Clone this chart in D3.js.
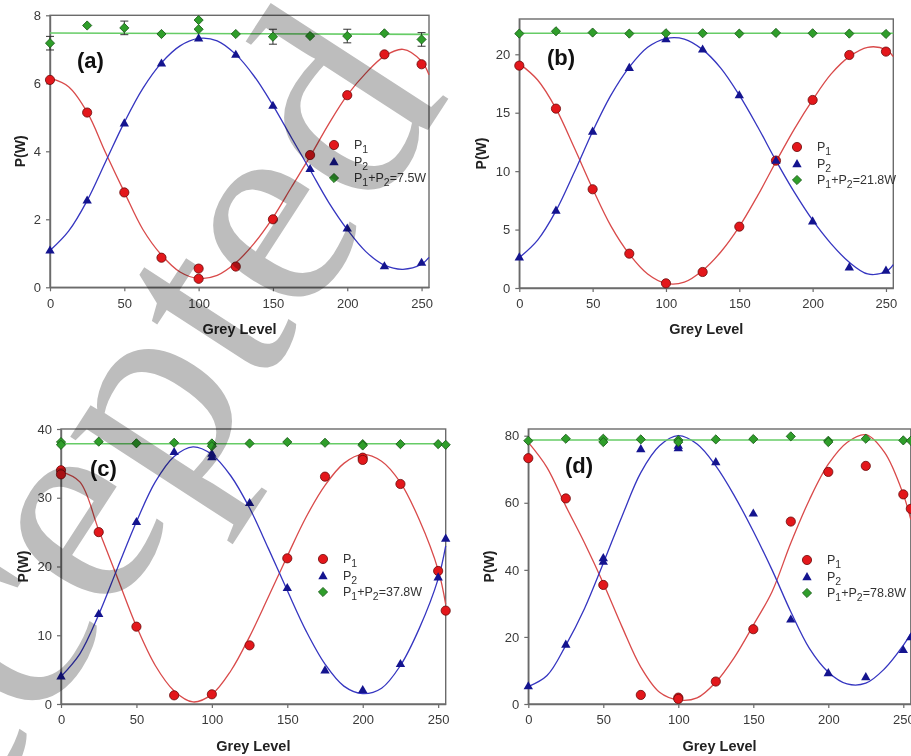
<!DOCTYPE html>
<html><head><meta charset="utf-8">
<script src="https://cdn.jsdelivr.net/npm/d3@7"></script>
<style>
body{margin:0;background:#fff;}
svg{display:block;font-family:Arial,"Liberation Sans",sans-serif;}
</style>
</head><body>
<svg id="chart" width="911" height="756"></svg>
<script>
// ---------------- DATA ----------------
const xTicks = [0, 50, 100, 150, 200, 250];
const fitX = [0,12.5,25,37.5,50,62.5,75,87.5,100,112.5,125,137.5,150,162.5,175,187.5,200,212.5,225,237.5,250,255];

// Panel (a)
const yTicksA = [0, 2, 4, 6, 8];
const p1XA = [0,25,50,75,100,100,125,150,175,200,225,250];
const p1A  = [6.10,5.14,2.79,0.87,0.55,0.25,0.61,2.00,3.89,5.65,6.85,6.56];
const p2XA = [0,25,50,75,100,125,150,175,200,225,250];
const p2A  = [1.10,2.57,4.84,6.60,7.34,6.86,5.36,3.50,1.75,0.64,0.74];
const sumXA = [0,25,50,75,100,100,125,150,175,200,225,250];
const sumA  = [7.18,7.70,7.63,7.45,7.86,7.59,7.45,7.37,7.39,7.39,7.47,7.29];
const errA  = [0.20,0,0.20,0,0,0,0,0.22,0,0.20,0,0.20];
const fitP1A = [6.15,5.9,5.15,3.95,2.8,1.7,0.95,0.45,0.26,0.35,0.72,1.3,2.05,2.95,3.85,4.8,5.65,6.3,6.8,7.0,6.65,6.25];
const fitP2A = [1.08,1.65,2.55,3.7,4.85,5.85,6.6,7.1,7.32,7.25,6.85,6.2,5.35,4.4,3.45,2.5,1.7,1.05,0.65,0.53,0.68,0.88];
const sumFitA = [7.48, 7.44];
const sumLabelA = "=7.5W";

// Panel (b)
const yTicksB = [0, 5, 10, 15, 20];
const xB = [0,25,50,75,100,125,150,175,200,225,250];
const p1B = [19.03,15.35,8.45,2.94,0.40,1.37,5.25,10.90,16.09,19.94,20.23];
const p2B = [2.68,6.68,13.44,18.89,21.34,20.46,16.55,10.96,5.76,1.82,1.54];
const sumB = [21.77,21.97,21.86,21.77,21.80,21.80,21.77,21.83,21.80,21.77,21.74];
const fitP1B = [19.2,17.8,15.35,12.0,8.5,5.3,2.9,1.2,0.4,0.5,1.5,3.1,5.25,7.9,10.8,13.6,16.1,18.3,19.8,20.6,20.4,19.8];
const fitP2B = [2.6,4.1,6.6,9.9,13.4,16.5,18.9,20.6,21.35,21.3,20.4,18.8,16.5,13.8,10.9,8.2,5.8,3.8,2.2,1.2,1.4,2.0];
const sumFitB = [21.8, 21.8];
const sumLabelB = "=21.8W";

// Panel (c)
const yTicksC = [0, 10, 20, 30, 40];
const p1XC = [0,0,25,50,75,100,125,150,175,200,200,225,250,255];
const p1C  = [34.0,33.4,25.0,11.25,1.26,1.41,8.53,21.19,33.07,35.83,35.5,32.0,19.35,13.58];
const p2XC = [0,25,50,75,100,100,125,150,175,200,225,250,255];
const p2C  = [4.12,13.19,26.57,36.75,36.5,36.0,29.34,16.97,4.99,2.13,5.92,18.52,24.15];
const sumXC = [0,0,25,50,75,100,100,125,150,175,200,200,225,250,255];
const sumC  = [38.1,37.7,38.16,37.92,38.0,37.9,37.5,37.9,38.1,38.0,37.8,37.6,37.8,37.8,37.7];
const fitP1C = [33.8,32.3,25.3,18.3,11.3,5.6,1.9,0.3,1.4,4.8,9.8,15.6,21.5,27.2,31.8,35.0,36.3,35.3,32.2,26.8,19.5,14.5];
const fitP2C = [4.0,7.3,13.0,19.8,26.5,32.3,36.0,37.4,36.3,33.2,28.5,22.6,16.5,10.6,5.8,2.6,1.5,2.3,5.6,11.0,18.2,23.0];
const sumFitC = [37.85, 37.85];
const sumLabelC = "=37.8W";

// Panel (d)
const yTicksD = [0, 20, 40, 60, 80];
const p1XD = [0,25,50,75,100,100,125,150,175,200,225,250,255];
const p1D  = [73.3,61.3,35.5,2.7,1.9,1.5,6.7,22.3,54.4,69.2,71.0,62.5,58.2];
const p2XD = [0,25,50,50,75,100,100,125,150,175,200,225,250,255];
const p2D  = [5.5,17.9,43.7,42.6,76.2,76.5,77.2,72.3,57.0,25.4,9.4,8.2,16.3,20.1];
const sumXD = [0,25,50,50,75,100,100,125,150,175,200,200,225,250,255];
const sumD  = [78.5,79.1,79.1,78.1,78.9,78.7,78.1,78.9,79.0,79.8,78.5,78.1,79.1,78.6,78.5];
const fitP1D = [78,70.5,59,48,36,23,11,3.5,1.2,1.8,6.5,14,23.5,33.5,48,61,71.5,78,80.3,75,62.5,55];
const fitP2D = [5.2,8.5,17.5,28.5,42,56,69,77,80,77.5,71,62,51.5,40,27.5,16.5,9.5,6,6.2,10.5,17.5,21];
const sumFitD = [78.7, 78.7];
const sumLabelD = "=78.8W";

const panelLabels = ["(a)", "(b)", "(c)", "(d)"];
const xTitle = "Grey Level";
const yTitle = "P(W)";
const watermark = "Accepted";

// ---------------- DRAW ----------------
const svg = d3.select("#chart");
svg.append("rect").attr("width", 911).attr("height", 756).attr("fill", "#fff");

const panels = [
  {label: panelLabels[0], left: 50, right: 429, top: 15.3, bottom: 287.3, yMax: 8, yTicks: yTicksA,
   p1X: p1XA, p1: p1A, p2X: p2XA, p2: p2A, sumX: sumXA, sum: sumA, err: errA,
   f1: fitP1A, f2: fitP2A, sf: sumFitA, sumLabel: sumLabelA,
   labPos: [77, 68], legPos: [334, 145], yTitleX: 20, xTitleY: 334},
  {label: panelLabels[1], left: 519.3, right: 893.3, top: 19, bottom: 288, yMax: 23.02, yTicks: yTicksB,
   p1X: xB, p1: p1B, p2X: xB, p2: p2B, sumX: xB, sum: sumB, err: null,
   f1: fitP1B, f2: fitP2B, sf: sumFitB, sumLabel: sumLabelB,
   labPos: [547, 65], legPos: [797, 147], yTitleX: 481, xTitleY: 334},
  {label: panelLabels[2], left: 61, right: 445.7, top: 429, bottom: 704, yMax: 40, yTicks: yTicksC,
   p1X: p1XC, p1: p1C, p2X: p2XC, p2: p2C, sumX: sumXC, sum: sumC, err: null,
   f1: fitP1C, f2: fitP2C, sf: sumFitC, sumLabel: sumLabelC,
   labPos: [90, 476], legPos: [323, 559], yTitleX: 22.5, xTitleY: 751},
  {label: panelLabels[3], left: 528.3, right: 910.8, top: 429, bottom: 704, yMax: 82, yTicks: yTicksD,
   p1X: p1XD, p1: p1D, p2X: p2XD, p2: p2D, sumX: sumXD, sum: sumD, err: null,
   f1: fitP1D, f2: fitP2D, sf: sumFitD, sumLabel: sumLabelD,
   labPos: [565, 473], legPos: [807, 560], yTitleX: 489, xTitleY: 751}
];

const C = {
  red: "#e3171b", redEdge: "#6a0a0a", redLine: "#d94a4a",
  blue: "#14148f", blueLine: "#3535c0",
  green: "#2f9e2a", greenEdge: "#175a17", greenLine: "#66cc66",
  axis: "#6b6b6b", tickText: "#3a3a3a"
};

const triPath = d3.symbol(d3.symbolTriangle, 38)();
const diaPath = d3.symbol(d3.symbolSquare, 42)();

function drawMarkers(g, xs, ys, x, y, kind) {
  const sel = g.selectAll(null).data(xs.map((v, i) => [v, ys[i]])).enter();
  if (kind === "circle") {
    sel.append("circle").attr("cx", d => x(d[0])).attr("cy", d => y(d[1])).attr("r", 4.6)
      .attr("fill", C.red).attr("stroke", C.redEdge).attr("stroke-width", 0.8);
  } else if (kind === "tri") {
    sel.append("path").attr("d", triPath)
      .attr("transform", d => `translate(${x(d[0])},${y(d[1]) + 1})`)
      .attr("fill", C.blue);
  } else {
    sel.append("path").attr("d", diaPath)
      .attr("transform", d => `translate(${x(d[0])},${y(d[1])}) rotate(45)`)
      .attr("fill", C.green).attr("stroke", C.greenEdge).attr("stroke-width", 0.8);
  }
}

panels.forEach((p, idx) => {
  const x = d3.scaleLinear().domain([0, 255]).range([p.left, p.right]);
  const y = d3.scaleLinear().domain([0, p.yMax]).range([p.bottom, p.top]);
  const g = svg.append("g");

  // frame
  g.append("rect").attr("x", p.left).attr("y", p.top)
    .attr("width", p.right - p.left).attr("height", p.bottom - p.top)
    .attr("fill", "none").attr("stroke", C.axis).attr("stroke-width", 1.4);

  // axes
  const ax = g.append("g").attr("transform", `translate(0,${p.bottom})`)
    .call(d3.axisBottom(x).tickValues(xTicks).tickSize(4).tickSizeOuter(0).tickPadding(7));
  const ay = g.append("g").attr("transform", `translate(${p.left},0)`)
    .call(d3.axisLeft(y).tickValues(p.yTicks).tickSize(4).tickSizeOuter(0).tickPadding(5));
  [ax, ay].forEach(a => {
    a.select(".domain").attr("stroke", C.axis).attr("stroke-width", 1.4);
    a.selectAll(".tick line").attr("stroke", C.axis).attr("stroke-width", 1.2);
    a.selectAll(".tick text").attr("fill", C.tickText).attr("font-size", 13)
      .attr("font-family", "Arial, 'Liberation Sans', sans-serif");
  });

  // titles
  g.append("text").attr("x", (p.left + p.right) / 2).attr("y", p.xTitleY)
    .attr("text-anchor", "middle").attr("font-weight", "bold").attr("font-size", 14.5)
    .attr("fill", "#222").text(xTitle);
  g.append("text").attr("transform", `translate(${p.yTitleX + 5},${(p.top + p.bottom) / 2}) rotate(-90)`)
    .attr("text-anchor", "middle").attr("font-weight", "bold").attr("font-size", 14)
    .attr("fill", "#222").text(yTitle);

  // panel label
  g.append("text").attr("x", p.labPos[0]).attr("y", p.labPos[1])
    .attr("font-weight", "bold").attr("font-size", 22).attr("fill", "#111").text(p.label);

  // fitted curves
  const line = d3.line().x(d => x(d[0])).y(d => y(d[1])).curve(d3.curveCatmullRom.alpha(0.5));
  g.append("path").datum(fitX.map((v, i) => [v, p.f1[i]])).attr("d", line)
    .attr("fill", "none").attr("stroke", C.redLine).attr("stroke-width", 1.3);
  g.append("path").datum(fitX.map((v, i) => [v, p.f2[i]])).attr("d", line)
    .attr("fill", "none").attr("stroke", C.blueLine).attr("stroke-width", 1.3);
  g.append("path").datum([[0, p.sf[0]], [255, p.sf[1]]]).attr("d", d3.line().x(d => x(d[0])).y(d => y(d[1])))
    .attr("fill", "none").attr("stroke", C.greenLine).attr("stroke-width", 1.6);

  // error bars
  if (p.err) {
    const eg = g.append("g").attr("stroke", "#333").attr("stroke-width", 1);
    p.sumX.forEach((v, i) => {
      const e = p.err[i];
      if (!e) return;
      const cx = x(v), y1 = y(p.sum[i] + e), y2 = y(p.sum[i] - e);
      eg.append("line").attr("x1", cx).attr("x2", cx).attr("y1", y1).attr("y2", y2);
      eg.append("line").attr("x1", cx - 4).attr("x2", cx + 4).attr("y1", y1).attr("y2", y1);
      eg.append("line").attr("x1", cx - 4).attr("x2", cx + 4).attr("y1", y2).attr("y2", y2);
    });
  }

  // markers
  drawMarkers(g, p.p1X, p.p1, x, y, "circle");
  drawMarkers(g, p.p2X, p.p2, x, y, "tri");
  drawMarkers(g, p.sumX, p.sum, x, y, "dia");

  // legend
  const lx = p.legPos[0], ly = p.legPos[1], dy = 16.5;
  const lg = g.append("g");
  lg.append("circle").attr("cx", lx).attr("cy", ly).attr("r", 4.6)
    .attr("fill", C.red).attr("stroke", C.redEdge).attr("stroke-width", 0.8);
  lg.append("path").attr("d", triPath).attr("transform", `translate(${lx},${ly + dy + 1})`).attr("fill", C.blue);
  lg.append("path").attr("d", diaPath).attr("transform", `translate(${lx},${ly + 2 * dy}) rotate(45)`)
    .attr("fill", C.green).attr("stroke", C.greenEdge).attr("stroke-width", 0.8);
  const tx = lx + 20;
  const texts = [
    [["P", 0], ["1", 1]],
    [["P", 0], ["2", 1]],
    [["P", 0], ["1", 1], ["+P", 0], ["2", 1], [p.sumLabel, 0]]
  ];
  texts.forEach((parts, r) => {
    const t = lg.append("text").attr("x", tx).attr("y", ly + r * dy + 4)
      .attr("font-size", 12.5).attr("fill", "#333");
    let prev = 0;
    parts.forEach(([s, sub]) => {
      t.append("tspan").attr("dy", (sub - prev) * 4).attr("font-size", sub ? 10.5 : 12.5).text(s);
      prev = sub;
    });
  });
});

// watermark (drawn over, multiplied)
svg.append("text")
  .attr("transform", "translate(-146,1014) rotate(-57)")
  .attr("font-family", "'Liberation Serif', 'DejaVu Serif', serif")
  .attr("font-size", 290)
  .attr("fill", "#bdbdbd")
  .style("mix-blend-mode", "multiply")
  .text(watermark);
</script>
</body></html>
